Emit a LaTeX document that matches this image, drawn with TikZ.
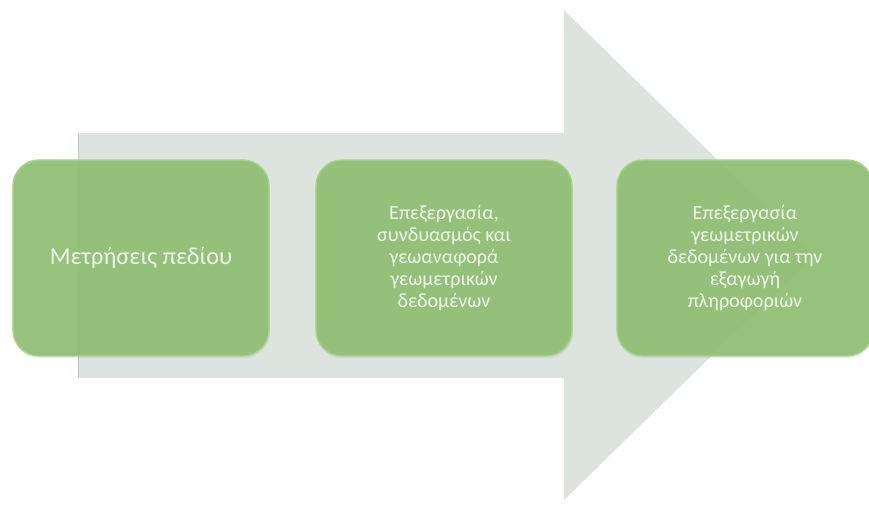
\documentclass[tikz,border=0pt]{standalone}
\usepackage{fontspec}
\setmainfont{Carlito}
\usetikzlibrary{shadows}
\definecolor{boxgreen}{HTML}{8CBD6D}
\definecolor{boxedge}{HTML}{A6D586}
\definecolor{arrowgray}{HTML}{DDE4DF}
\definecolor{arrowedge}{HTML}{BFCBC3}
\definecolor{txtwhite}{HTML}{EEF6E8}
\tikzset{
  stage/.style={rectangle, rounded corners=0.65cm, fill=boxgreen, fill opacity=0.88,
    text opacity=1, draw=boxedge, line width=1pt, minimum width=6.4cm,
    minimum height=4.9cm, align=center, text=txtwhite,
    font=\fontsize{14.3}{15.5}\selectfont,
    drop shadow={opacity=0.12, shadow xshift=0.02cm, shadow yshift=-0.06cm}}
}
\begin{document}
\begin{tikzpicture}[x=0.025cm,y=-0.025cm]
    \useasboundingbox (0,0) rectangle (869,509);
    \fill[arrowgray] (78,133) -- (564,133) -- (564,10) -- (815,255)
      -- (564,500) -- (564,378) -- (78,378) -- cycle;
    \draw[arrowedge] (78,133) -- (78,378);
    \node[stage, font=\fontsize{17.3}{18}\selectfont] (meas) at (141,258) {Μετρήσεις πεδίου};
    \node[stage] (proc) at (444,258) {Επεξεργασία,\\συνδυασμός και\\γεωαναφορά\\γεωμετρικών\\δεδομένων};
    \node[stage] (info) at (745,258) {Επεξεργασία\\γεωμετρικών\\δεδομένων για την\\εξαγωγή\\πληροφοριών};
\end{tikzpicture}
\end{document}
